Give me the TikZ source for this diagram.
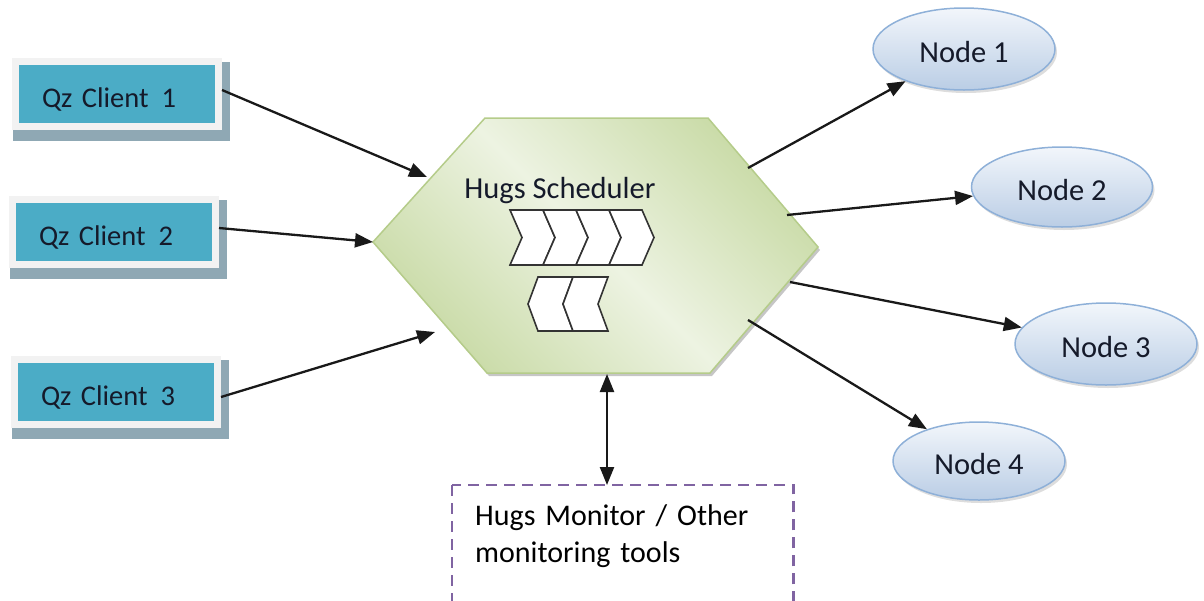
\documentclass[tikz,border=0pt]{standalone}
\usepackage{fontspec}
\setmainfont{Carlito}
\usetikzlibrary{arrows.meta,calc,backgrounds,shapes.geometric,shadows}
\definecolor{tealc}{HTML}{4BACC6}
\definecolor{frameg}{HTML}{F2F2F2}
\definecolor{shadowc}{RGB}{143,168,180}
\definecolor{hexdark}{HTML}{C5D8A0}
\definecolor{hexlight}{HTML}{EDF3E2}
\definecolor{hexline}{HTML}{B5CC8A}
\definecolor{elltop}{HTML}{F2F6FB}
\definecolor{ellbot}{HTML}{BACDE5}
\definecolor{ellline}{HTML}{8EB0D8}
\definecolor{monc}{HTML}{8064A2}
\definecolor{txtc}{HTML}{151A2A}
\pgfdeclarehorizontalshading{hexsh}{100bp}{color(0bp)=(hexdark); color(22bp)=(hexdark); color(50bp)=(hexlight); color(78bp)=(hexdark); color(100bp)=(hexdark)}
\begin{document}
\begin{tikzpicture}[x=1pt,y=-1pt,
  client/.style={rectangle, fill=tealc, draw=frameg, line width=7pt,
    minimum width=203pt, minimum height=65pt, text width=150pt, align=left,
    inner sep=0pt, text=txtc, text height=27pt, text depth=0pt,
    font=\fontsize{28.5}{34}\selectfont},
  ell/.style={ellipse, draw=ellline, line width=1.5pt, top color=elltop,
    bottom color=ellbot, inner sep=0pt, text=txtc, text height=26pt, text depth=0pt,
    font=\fontsize{30.5}{36}\selectfont,
    drop shadow={shadow xshift=2pt, shadow yshift=-3pt, fill=gray!45, opacity=0.6}},
  chev/.style={fill=white, draw=black!80, line width=1.6pt, line join=miter},
  arr/.style={draw=black!90, line width=2.3pt, -{Triangle[length=18pt,width=14pt]}},
  darr/.style={draw=black!90, line width=2.3pt, {Triangle[length=18pt,width=14pt]}-{Triangle[length=18pt,width=14pt]}},
  montext/.style={align=left, text width=295pt, inner xsep=23pt, inner ysep=19pt,
    text=black, font=\fontsize{30}{37}\selectfont},
  monbox/.style={draw=monc, line width=2.4pt, dash pattern=on 11pt off 7pt}
]
\useasboundingbox (0,0) rectangle (1204,600);
\clip (0,0) rectangle (1204,600);

% clients
\node[client] (c1) at (117,94) {Qz Client\hspace{0.12em} 1};
\node[client] (c2) at (114,232) {Qz Client\hspace{0.12em} 2};
\node[client] (c3) at (116,392) {Qz Client\hspace{0.12em} 3};
\begin{pgfonlayer}{background}
\foreach \c in {c1,c2,c3}
  \fill[shadowc] ($(\c.south west)+(0.5,10.5)$) rectangle ($(\c.north east)+(7.5,3.5)$);
\end{pgfonlayer}

% hexagon
\coordinate (hTL) at (485,118);
\coordinate (hTR) at (708,118);
\coordinate (hR) at (818,247);
\coordinate (hBR) at (710,373);
\coordinate (hBL) at (487,373);
\coordinate (hL) at (373,242);
\fill[gray!45] ([shift={(2,3)}]hTL) -- ([shift={(2,3)}]hTR) -- ([shift={(2,3)}]hR) -- ([shift={(2,3)}]hBR) -- ([shift={(2,3)}]hBL) -- ([shift={(2,3)}]hL) -- cycle;
\draw[hexline, line width=1.5pt, shading=hexsh, shading angle=45]
  (hTL) -- (hTR) -- (hR) -- (hBR) -- (hBL) -- (hL) -- cycle;
\node[anchor=base, inner sep=0pt, text=txtc, font=\fontsize{30.5}{36}\selectfont] (hs) at (560,198) {Hugs Scheduler};

% chevrons
\foreach \x in {510,543,576,609}
  \draw[chev] (\x,210) -- ++(33,0) -- ++(12,27.5) -- ++(-12,27.5) -- ++(-33,0) -- ++(12,-27.5) -- cycle;
\foreach \r in {573,608}
  \draw[chev] (\r,277) -- ++(-35,0) -- ++(-10,27) -- ++(10,27) -- ++(35,0) -- ++(-10,-27) -- cycle;

% worker nodes
\node[ell, minimum width=182pt, minimum height=82pt] (n1) at (964,49) {Node 1};
\node[ell, minimum width=181pt, minimum height=80pt] (n2) at (1062,187) {Node 2};
\node[ell, minimum width=182pt, minimum height=82pt] (n3) at (1106,344) {Node 3};
\node[ell, minimum width=172pt, minimum height=78pt] (n4) at (979,461) {Node 4};

% monitor
\node[montext, anchor=north west] (mon) at (452,485) {Hugs Monitor / Other\\monitoring tools};
\draw[monbox] (mon.north west) rectangle ($(mon.north east)+(0,140)$);

% connectors
\coordinate (i1) at (427,177);
\coordinate (i3) at (435,332);
\coordinate (o1) at (748,168);
\coordinate (o2) at (787,215);
\coordinate (o3) at (790,282);
\coordinate (o4) at (748,320);
\coordinate (hb) at (607,374);
\draw[arr] ($(c1.east)+(0,-4)$) -- (i1);
\draw[arr] ($(c2.east)+(0,-4)$) -- (hL);
\draw[arr] ($(c3.east)+(0,5)$) -- (i3);
\draw[arr] (o1) -- (n1);
\draw[arr] (o2) -- (n2);
\draw[arr] (o3) -- (n3);
\draw[arr] (o4) -- (n4);
\draw[darr] (hb) -- (hb |- mon.north);
\end{tikzpicture}
\end{document}
